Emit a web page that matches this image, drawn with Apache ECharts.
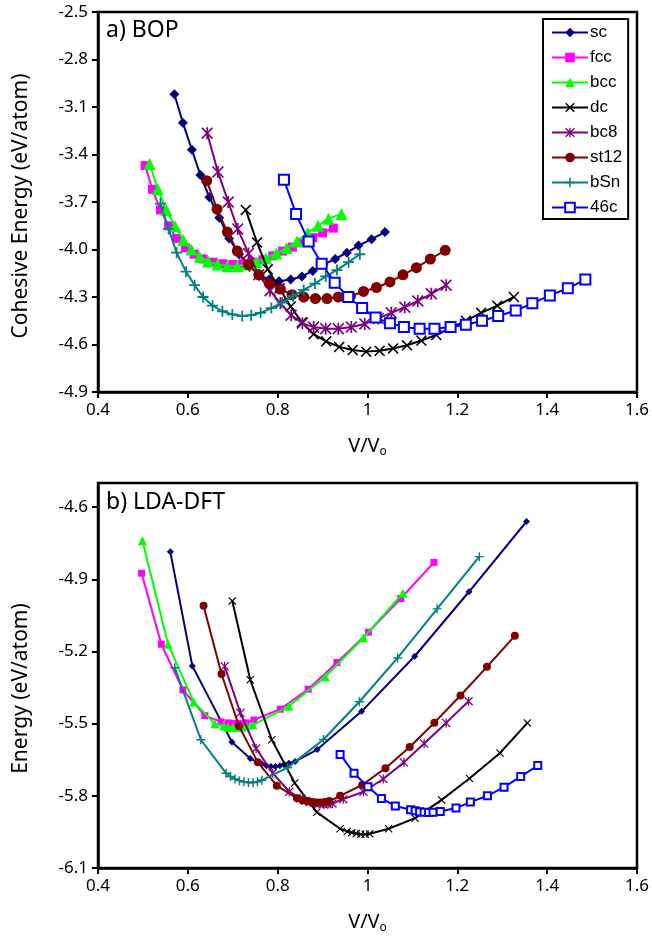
<!DOCTYPE html>
<html>
<head>
<meta charset="utf-8">
<script src="https://cdn.jsdelivr.net/npm/echarts@6/dist/echarts.min.js"></script>
<style>html,body{margin:0;padding:0;background:#fff;}#c{width:652px;height:943px;}</style>
</head>
<body>
<div id="c"></div>
<script>
// ---- Data: [V/Vo, energy] ----
const seriesNames = ['sc', 'fcc', 'bcc', 'dc', 'bc8', 'st12', 'bSn', '46c'];
const xTicks = [0.4, 0.6, 0.8, 1.0, 1.2, 1.4, 1.6];
const topYTicks = [-4.9, -4.6, -4.3, -4.0, -3.7, -3.4, -3.1, -2.8, -2.5];
const bottomYTicks = [-6.1, -5.8, -5.5, -5.2, -4.9, -4.6];

// a) BOP
const bopSc = [[0.570,-3.02],[0.589,-3.20],[0.609,-3.37],[0.628,-3.53],[0.648,-3.67],[0.670,-3.80],[0.692,-3.93],[0.714,-4.03],[0.737,-4.11],[0.760,-4.16],[0.781,-4.19],[0.803,-4.20],[0.829,-4.19],[0.854,-4.17],[0.878,-4.135],[0.902,-4.095],[0.928,-4.06],[0.954,-4.02],[0.980,-3.975],[1.009,-3.935],[1.039,-3.89]];
const bopFcc = [[0.505,-3.47],[0.521,-3.62],[0.539,-3.75],[0.557,-3.85],[0.575,-3.93],[0.595,-3.99],[0.614,-4.03],[0.634,-4.06],[0.656,-4.08],[0.678,-4.09],[0.700,-4.095],[0.722,-4.09],[0.745,-4.08],[0.767,-4.065],[0.789,-4.04],[0.811,-4.01],[0.833,-3.985],[0.855,-3.955],[0.878,-3.925],[0.900,-3.895],[0.924,-3.865]];
const bopBcc = [[0.515,-3.46],[0.533,-3.62],[0.552,-3.75],[0.572,-3.855],[0.590,-3.94],[0.608,-4.00],[0.626,-4.045],[0.645,-4.075],[0.666,-4.095],[0.688,-4.105],[0.710,-4.105],[0.731,-4.095],[0.752,-4.08],[0.774,-4.055],[0.797,-4.025],[0.820,-3.99],[0.843,-3.95],[0.867,-3.895],[0.890,-3.85],[0.913,-3.805],[0.942,-3.775]];
const bopDc = [[0.729,-3.75],[0.754,-3.955],[0.778,-4.125],[0.804,-4.245],[0.829,-4.36],[0.854,-4.46],[0.880,-4.535],[0.908,-4.58],[0.937,-4.615],[0.967,-4.635],[0.997,-4.645],[1.027,-4.64],[1.057,-4.625],[1.088,-4.605],[1.120,-4.575],[1.153,-4.54],[1.186,-4.495],[1.219,-4.45],[1.253,-4.40],[1.289,-4.355],[1.326,-4.30]];
const bopBc8 = [[0.643,-3.265],[0.667,-3.51],[0.690,-3.70],[0.711,-3.87],[0.735,-4.025],[0.758,-4.16],[0.783,-4.26],[0.806,-4.34],[0.830,-4.415],[0.855,-4.465],[0.880,-4.49],[0.907,-4.50],[0.935,-4.50],[0.964,-4.49],[0.994,-4.47],[1.024,-4.435],[1.053,-4.40],[1.083,-4.365],[1.112,-4.325],[1.142,-4.28],[1.175,-4.225]];
const bopSt12 = [[0.642,-3.565],[0.665,-3.745],[0.688,-3.89],[0.710,-4.01],[0.735,-4.095],[0.758,-4.16],[0.782,-4.215],[0.806,-4.25],[0.832,-4.285],[0.858,-4.30],[0.884,-4.31],[0.910,-4.31],[0.935,-4.30],[0.962,-4.295],[0.991,-4.265],[1.020,-4.24],[1.050,-4.205],[1.079,-4.16],[1.109,-4.115],[1.140,-4.06],[1.173,-4.005]];
const bopBSn = [[0.539,-3.71],[0.557,-3.87],[0.575,-4.02],[0.596,-4.14],[0.615,-4.225],[0.634,-4.30],[0.655,-4.355],[0.677,-4.39],[0.699,-4.41],[0.721,-4.42],[0.741,-4.415],[0.762,-4.40],[0.786,-4.37],[0.810,-4.335],[0.834,-4.295],[0.858,-4.255],[0.883,-4.215],[0.907,-4.17],[0.932,-4.13],[0.958,-4.08],[0.983,-4.03]];
const bop46c = [[0.814,-3.56],[0.841,-3.775],[0.869,-3.95],[0.898,-4.09],[0.927,-4.21],[0.957,-4.30],[0.988,-4.37],[1.018,-4.43],[1.050,-4.465],[1.081,-4.49],[1.116,-4.50],[1.149,-4.50],[1.185,-4.49],[1.219,-4.475],[1.255,-4.45],[1.291,-4.42],[1.330,-4.385],[1.367,-4.34],[1.406,-4.29],[1.446,-4.245],[1.485,-4.19]];

// b) LDA-DFT
const ldaSc = [[0.561,-4.786],[0.610,-5.26],[0.698,-5.576],[0.739,-5.645],[0.755,-5.66],[0.765,-5.668],[0.775,-5.675],[0.785,-5.678],[0.795,-5.678],[0.805,-5.675],[0.815,-5.67],[0.825,-5.665],[0.839,-5.657],[0.888,-5.608],[0.987,-5.449],[1.105,-5.22],[1.226,-4.952],[1.354,-4.66]];
const ldaFcc = [[0.497,-4.875],[0.541,-5.17],[0.589,-5.36],[0.638,-5.467],[0.674,-5.493],[0.690,-5.497],[0.700,-5.50],[0.710,-5.50],[0.720,-5.50],[0.730,-5.497],[0.747,-5.485],[0.806,-5.44],[0.868,-5.357],[0.932,-5.246],[1.002,-5.12],[1.074,-4.98],[1.148,-4.83]];
const ldaBcc = [[0.499,-4.74],[0.556,-5.17],[0.613,-5.41],[0.660,-5.50],[0.680,-5.51],[0.690,-5.515],[0.700,-5.515],[0.710,-5.515],[0.720,-5.515],[0.730,-5.51],[0.745,-5.505],[0.825,-5.428],[0.906,-5.305],[0.991,-5.143],[1.079,-4.958]];
const ldaDc = [[0.699,-4.99],[0.739,-5.318],[0.787,-5.567],[0.838,-5.747],[0.887,-5.868],[0.939,-5.937],[0.955,-5.948],[0.965,-5.953],[0.975,-5.957],[0.985,-5.96],[0.995,-5.96],[1.005,-5.958],[1.047,-5.937],[1.106,-5.893],[1.165,-5.817],[1.227,-5.728],[1.295,-5.622],[1.356,-5.497]];
const ldaBc8 = [[0.682,-5.262],[0.717,-5.455],[0.752,-5.603],[0.789,-5.706],[0.826,-5.783],[0.850,-5.81],[0.862,-5.82],[0.872,-5.826],[0.882,-5.83],[0.892,-5.833],[0.902,-5.835],[0.912,-5.835],[0.922,-5.832],[0.946,-5.814],[0.991,-5.783],[1.035,-5.73],[1.081,-5.661],[1.126,-5.583],[1.175,-5.497],[1.225,-5.407]];
const ldaSt12 = [[0.635,-5.01],[0.675,-5.294],[0.714,-5.511],[0.756,-5.661],[0.798,-5.758],[0.843,-5.81],[0.855,-5.818],[0.865,-5.822],[0.875,-5.826],[0.885,-5.828],[0.895,-5.828],[0.905,-5.826],[0.915,-5.822],[0.939,-5.80],[0.988,-5.755],[1.040,-5.685],[1.094,-5.597],[1.149,-5.496],[1.207,-5.383],[1.266,-5.264],[1.328,-5.135]];
const ldaBSn = [[0.571,-5.268],[0.629,-5.567],[0.685,-5.706],[0.695,-5.72],[0.705,-5.73],[0.715,-5.737],[0.725,-5.742],[0.735,-5.745],[0.745,-5.745],[0.755,-5.742],[0.765,-5.735],[0.822,-5.683],[0.902,-5.566],[0.982,-5.409],[1.067,-5.227],[1.155,-5.023],[1.249,-4.806]];
const lda46c = [[0.939,-5.628],[0.970,-5.706],[1.001,-5.762],[1.031,-5.811],[1.062,-5.842],[1.096,-5.858],[1.106,-5.862],[1.116,-5.866],[1.126,-5.868],[1.136,-5.869],[1.146,-5.868],[1.162,-5.865],[1.197,-5.851],[1.229,-5.826],[1.267,-5.80],[1.304,-5.764],[1.341,-5.72],[1.379,-5.674]];

const bopData = [bopSc, bopFcc, bopBcc, bopDc, bopBc8, bopSt12, bopBSn, bop46c];
const ldaData = [ldaSc, ldaFcc, ldaBcc, ldaDc, ldaBc8, ldaSt12, ldaBSn, lda46c];

// ---- Styles ----
const colors = ['#000080', '#ff00ff', '#00ff00', '#000000', '#800080', '#800000', '#008080', '#0000ff'];
const X_PATH = 'path://M1,0L5,4L9,0L10,1L6,5L10,9L9,10L5,6L1,10L0,9L4,5L0,1Z';
const STAR_PATH = 'path://M1,0L5,4L9,0L10,1L6,5L10,9L9,10L5,6L1,10L0,9L4,5L0,1Z M4.3,0L5.7,0L5.7,10L4.3,10Z';
const PLUS_PATH = 'path://M4.2,0L5.8,0L5.8,4.2L10,4.2L10,5.8L5.8,5.8L5.8,10L4.2,10L4.2,5.8L0,5.8L0,4.2L4.2,4.2Z';
const symbols = ['diamond', 'rect', 'triangle', X_PATH, STAR_PATH, 'circle', PLUS_PATH, 'emptyRect'];
const topSizes = [10, 9, 12, 11, 12, 11, 11, 10];
const botSizes = [7, 7, 9, 8, 9, 8, 9, 7];

const FONT = 'Noto Sans';

function makeSeries(dataList, sizes, gi) {
  return dataList.map((d, i) => ({
    name: seriesNames[i],
    type: 'line',
    xAxisIndex: gi,
    yAxisIndex: gi,
    data: d,
    symbol: symbols[i],
    symbolSize: sizes[i],
    showAllSymbol: true,
    lineStyle: { color: colors[i], width: 2 },
    itemStyle: i === 7 ? { color: colors[i], borderColor: colors[i], borderWidth: gi === 0 ? 1.6 : 1.4 } : { color: colors[i] },
    emphasis: { disabled: true },
    z: 2 + i
  }));
}

function xAxis(gi) {
  return {
    type: 'value', gridIndex: gi, min: 0.4, max: 1.6, interval: 0.2,
    axisLine: { lineStyle: { color: '#000', width: 2.5 } },
    axisTick: { show: true, inside: false, length: 6, lineStyle: { color: '#000', width: 2 } },
    axisLabel: { color: '#000', fontSize: 17, fontFamily: FONT, margin: 10,
      formatter: v => { const r = Math.round(v * 10) / 10; return String(r); } },
    splitLine: { show: false },
    name: '{a|V/V}{b|o}', nameLocation: 'middle', nameGap: 42,
    nameTextStyle: { rich: {
      a: { fontSize: 20, fontFamily: FONT, color: '#000' },
      b: { fontSize: 12, fontFamily: FONT, color: '#000', padding: [12, 0, 0, 0] }
    } }
  };
}

function yAxis(gi, min, max, name, pad) {
  return {
    type: 'value', gridIndex: gi, min: min, max: max, interval: 0.3,
    axisLine: { lineStyle: { color: '#000', width: 2.5 } },
    axisTick: { show: true, inside: false, length: 6, lineStyle: { color: '#000', width: 2 } },
    axisLabel: { color: '#000', fontSize: 17, fontFamily: FONT, margin: 10, showMaxLabel: gi === 0,
      formatter: v => (Math.round(v * 10) / 10).toFixed(1) },
    splitLine: { show: false },
    name: name, nameLocation: 'middle', nameGap: 66,
    nameTextStyle: { fontSize: 21, fontFamily: FONT, color: '#000', padding: pad }
  };
}

const chart = echarts.init(document.getElementById('c'), null, { renderer: 'canvas' });
chart.setOption({
  animation: false,
  backgroundColor: '#fff',
  title: [
    { text: 'a) BOP', left: 106, top: 19, padding: 0, textStyle: { fontSize: 23, fontWeight: 'normal', fontFamily: FONT, color: '#000' } },
    { text: 'b) LDA-DFT', left: 106, top: 491, padding: 0, textStyle: { fontSize: 23, fontWeight: 'normal', fontFamily: FONT, color: '#000' } }
  ],
  legend: {
    data: seriesNames,
    orient: 'vertical',
    left: 543, top: 19,
    padding: [5, 6, 3, 8],
    itemWidth: 36, itemHeight: 12, itemGap: 8,
    borderColor: '#000', borderWidth: 2, backgroundColor: '#fff',
    textStyle: { fontSize: 17, fontFamily: 'Liberation Sans', color: '#000', padding: [0, 0, 0, -3] },
    selectedMode: false
  },
  grid: [
    { left: 98, top: 12, width: 540, height: 380, show: true, borderColor: '#000', borderWidth: 2.5, backgroundColor: 'transparent' },
    { left: 98, top: 483, width: 540, height: 385, show: true, borderColor: '#000', borderWidth: 2.5, backgroundColor: 'transparent' }
  ],
  xAxis: [xAxis(0), xAxis(1)],
  yAxis: [
    yAxis(0, -4.9, -2.5, 'Cohesive Energy (eV/atom)', [0, 8, 0, 0]),
    yAxis(1, -6.1, -4.5, 'Energy (eV/atom)', [0, 26, 0, 0])
  ],
  series: makeSeries(bopData, topSizes, 0).concat(makeSeries(ldaData, botSizes, 1))
});
</script>
</body>
</html>
